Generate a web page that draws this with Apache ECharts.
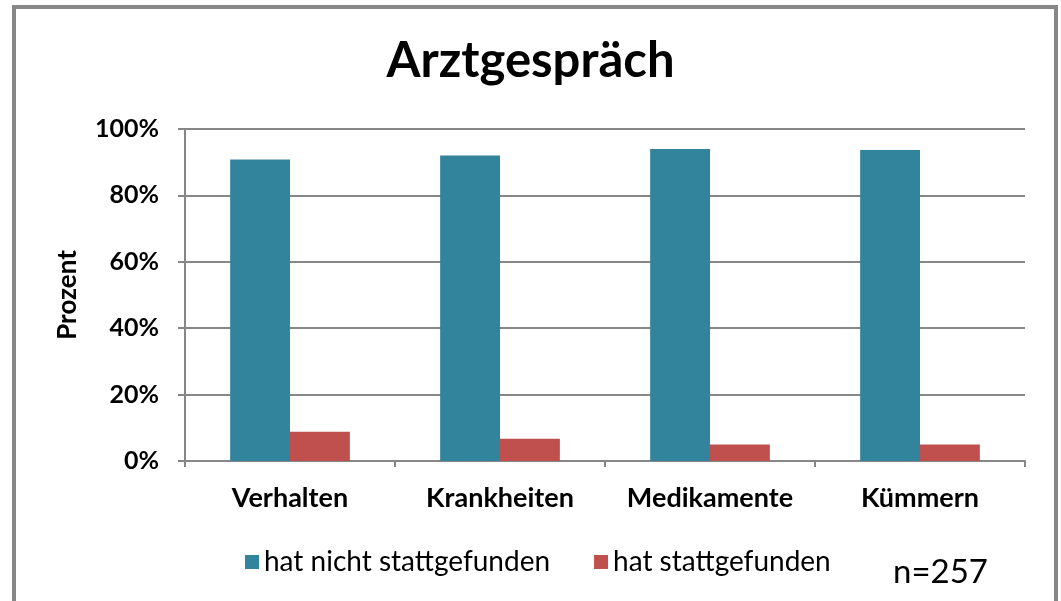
<!DOCTYPE html>
<html>
<head>
<meta charset="utf-8">
<script src="https://cdn.jsdelivr.net/npm/echarts@6/dist/echarts.min.js"></script>
<style>
html,body{margin:0;padding:0;background:#fff;}
#chart{width:1061px;height:601px;}
</style>
</head>
<body>
<div id="chart"></div>
<script>
var categories = ['Verhalten', 'Krankheiten', 'Medikamente', 'Kümmern'];
var seriesNames = ['hat nicht stattgefunden', 'hat stattgefunden'];
var nichtStattgefunden = [90.8, 92.0, 94.0, 93.7];
var stattgefunden = [8.8, 6.7, 5.0, 5.0];
var yTicks = [0, 20, 40, 60, 80, 100];

var FONT = 'Lato, "Open Sans", sans-serif';
var GRAY = '#878787';

var chart = echarts.init(document.getElementById('chart'), null, {renderer: 'canvas'});
chart.setOption({
  animation: false,
  backgroundColor: '#fff',
  textStyle: {fontFamily: FONT},
  title: {
    text: 'Arztgespräch',
    left: 'center',
    top: 32,
    textStyle: {fontFamily: FONT, fontSize: 49, fontWeight: 'bold', color: '#000'}
  },
  graphic: [
    {type: 'rect', shape: {x: 14, y: 7, width: 1042, height: 700},
     style: {fill: 'none', stroke: GRAY, lineWidth: 4}, silent: true},
    {type: 'text', left: 893, top: 556,
     style: {text: 'n=257', font: '33px ' + FONT, fill: '#000'}}
  ],
  legend: {
    data: seriesNames,
    left: 240,
    top: 543,
    itemWidth: 14,
    itemHeight: 14,
    itemGap: 44,
    icon: 'rect',
    textStyle: {fontFamily: FONT, fontSize: 28, color: '#000'}
  },
  grid: {left: 185, right: 36, top: 129, bottom: 140, containLabel: false},
  xAxis: {
    type: 'category',
    data: categories,
    axisLine: {lineStyle: {color: GRAY, width: 2}},
    axisTick: {show: true, interval: 0, length: 6, lineStyle: {color: GRAY, width: 2}},
    axisLabel: {interval: 0, fontFamily: FONT, fontSize: 27, fontWeight: 'bold', color: '#000', margin: 24}
  },
  yAxis: {
    type: 'value',
    min: yTicks[0],
    max: yTicks[yTicks.length - 1],
    interval: yTicks[1] - yTicks[0],
    name: 'Prozent',
    nameLocation: 'middle',
    nameGap: 104,
    nameRotate: 90,
    nameTextStyle: {fontFamily: FONT, fontSize: 26, fontWeight: 'bold', color: '#000'},
    axisLine: {show: true, lineStyle: {color: GRAY, width: 2}},
    axisTick: {show: true, length: 7, lineStyle: {color: GRAY, width: 2}},
    axisLabel: {fontFamily: FONT, fontSize: 25, fontWeight: 'bold', color: '#000', margin: 26,
                formatter: '{value}%'},
    splitLine: {show: true, lineStyle: {color: GRAY, width: 2}}
  },
  series: [
    {name: seriesNames[0], type: 'bar', data: nichtStattgefunden, barGap: '0%', barCategoryGap: '43%',
     itemStyle: {color: '#31849B'}},
    {name: seriesNames[1], type: 'bar', data: stattgefunden, barGap: '0%', barCategoryGap: '43%',
     itemStyle: {color: '#C0504D'}}
  ]
});
</script>
</body>
</html>
